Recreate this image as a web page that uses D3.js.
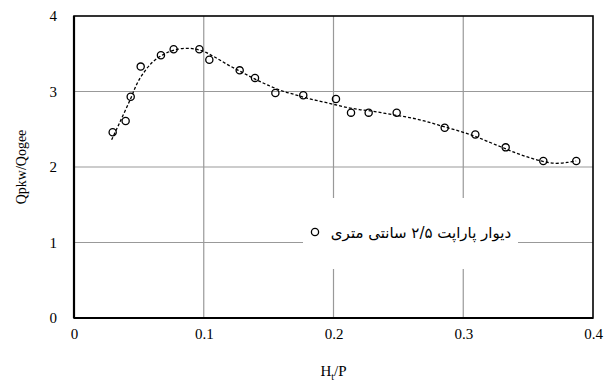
<!DOCTYPE html>
<html lang="en">
<head>
<meta charset="UTF-8">
<script src="https://d3js.org/d3.v7.min.js"></script>
<style>
  body { margin: 0; background: #fff; }
  svg text { font-family: "Liberation Serif", "Times New Roman", serif; fill: #000; }
  svg text.fa { font-family: "DejaVu Sans", sans-serif; }
</style>
</head>
<body>
<div id="chart"></div>
<script>
// measured points
const htp = [0.0298, 0.0398, 0.0437, 0.0514, 0.067, 0.0768, 0.0966, 0.1043, 0.1277, 0.1395,
             0.1552, 0.1767, 0.2019, 0.2135, 0.2271, 0.2487, 0.2857, 0.3093, 0.3327, 0.3617, 0.3871];
const ratio = [2.46, 2.61, 2.93, 3.33, 3.48, 3.56, 3.56, 3.42, 3.28, 3.18,
               2.98, 2.95, 2.90, 2.72, 2.72, 2.72, 2.52, 2.43, 2.26, 2.08, 2.08];
// dashed trend line
const trendX = [0.029, 0.035, 0.043, 0.05, 0.06, 0.07, 0.08, 0.09, 0.1, 0.11, 0.12, 0.13, 0.14,
                0.15, 0.16, 0.17, 0.18, 0.19, 0.2, 0.21, 0.22, 0.23, 0.24, 0.25, 0.26, 0.27,
                0.28, 0.29, 0.3, 0.31, 0.32, 0.33, 0.34, 0.35, 0.36, 0.37, 0.38, 0.387];
const trendY = [2.36, 2.58, 2.88, 3.15, 3.38, 3.50, 3.56, 3.57, 3.53, 3.44, 3.34, 3.25, 3.16,
                3.08, 3.01, 2.96, 2.91, 2.87, 2.83, 2.79, 2.76, 2.74, 2.71, 2.68, 2.65, 2.61,
                2.56, 2.51, 2.46, 2.40, 2.33, 2.26, 2.19, 2.13, 2.08, 2.05, 2.06, 2.08];
const xTicks = [0, 0.1, 0.2, 0.3, 0.4];
const yTicks = [0, 1, 2, 3, 4];
const legendLabel = "دیوار پاراپت ۲/۵ سانتی متری";

const w = 605, h = 381;
const m = {left: 74, right: 12, top: 16, bottom: 63};

const svg = d3.select("#chart").append("svg")
  .attr("width", w).attr("height", h);

const x = d3.scaleLinear().domain([0, 0.4]).range([m.left, w - m.right]);
const y = d3.scaleLinear().domain([0, 4]).range([h - m.bottom, m.top]);

// grid
svg.append("g").selectAll("line").data(xTicks.slice(1, -1)).join("line")
  .attr("x1", d => x(d)).attr("x2", d => x(d))
  .attr("y1", y(4)).attr("y2", y(0))
  .attr("stroke", "#999").attr("stroke-width", 1.2);
svg.append("g").selectAll("line").data(yTicks.slice(1, -1)).join("line")
  .attr("x1", x(0)).attr("x2", x(0.4))
  .attr("y1", d => y(d)).attr("y2", d => y(d))
  .attr("stroke", "#999").attr("stroke-width", 1.2);

// frame
svg.append("rect")
  .attr("x", x(0)).attr("y", y(4))
  .attr("width", x(0.4) - x(0)).attr("height", y(0) - y(4))
  .attr("fill", "none").attr("stroke", "#000").attr("stroke-width", 1.6);
svg.append("line").attr("x1", x(0)).attr("x2", x(0)).attr("y1", y(4)).attr("y2", y(0))
  .attr("stroke", "#000").attr("stroke-width", 2.2);
svg.append("line").attr("x1", x(0)).attr("x2", x(0.4)).attr("y1", y(0)).attr("y2", y(0))
  .attr("stroke", "#000").attr("stroke-width", 2.2);

// axes (labels only)
const xAxis = svg.append("g")
  .attr("transform", "translate(0," + y(0) + ")")
  .call(d3.axisBottom(x).tickValues(xTicks).tickFormat(d => d === 0 ? "0" : d3.format(".1f")(d)).tickSize(0).tickPadding(10));
xAxis.select(".domain").remove();

const yAxis = svg.append("g")
  .attr("transform", "translate(" + x(0) + ",0)")
  .call(d3.axisLeft(y).tickValues(yTicks).tickFormat(d3.format("d")).tickSize(0).tickPadding(17));
yAxis.select(".domain").remove();
svg.selectAll(".tick text").style("font-size", "15px");

// axis titles
svg.append("text")
  .attr("transform", "translate(21," + ((y(0) + y(4)) / 2) + ") rotate(-90)")
  .attr("text-anchor", "middle").attr("dy", "0.35em")
  .style("font-size", "14px")
  .text("Qpkw/Qogee");

const xt = svg.append("text")
  .attr("x", x(0.2)).attr("y", 376)
  .attr("text-anchor", "middle")
  .style("font-size", "15px");
xt.append("tspan").text("H");
xt.append("tspan").attr("dy", 4).style("font-size", "10px").text("t");
xt.append("tspan").attr("dy", -4).text("/P");

// trend line
const trend = trendX.map((d, i) => [d, trendY[i]]);
svg.append("path")
  .datum(trend)
  .attr("fill", "none").attr("stroke", "#000").attr("stroke-width", 1.3)
  .attr("stroke-dasharray", "3,2")
  .attr("d", d3.line().x(d => x(d[0])).y(d => y(d[1])).curve(d3.curveCatmullRom));

// points
svg.append("g").selectAll("circle")
  .data(htp.map((d, i) => [d, ratio[i]]))
  .join("circle")
  .attr("cx", d => x(d[0])).attr("cy", d => y(d[1]))
  .attr("r", 3.6)
  .attr("fill", "none").attr("stroke", "#000").attr("stroke-width", 1.3);

// legend
const lg = svg.append("g");
lg.append("rect")
  .attr("x", 303).attr("y", 198).attr("width", 215).attr("height", 71)
  .attr("fill", "#fff");
lg.append("circle").attr("cx", 315).attr("cy", 232).attr("r", 3.6)
  .attr("fill", "none").attr("stroke", "#000").attr("stroke-width", 1.3);
lg.append("text")
  .attr("class", "fa")
  .attr("x", 421).attr("y", 238)
  .attr("text-anchor", "middle")
  .style("font-size", "15px")
  .text(legendLabel);
</script>
</body>
</html>
